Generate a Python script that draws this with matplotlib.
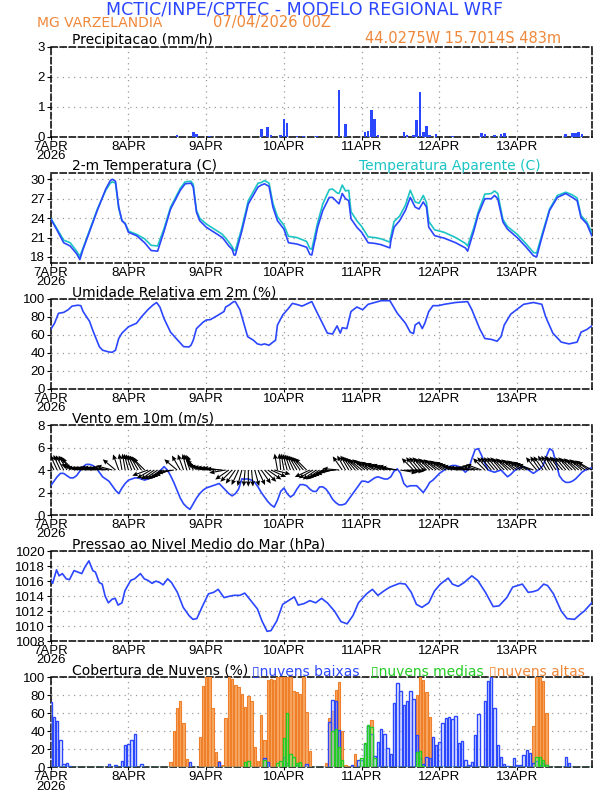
import matplotlib.pyplot as plt
import numpy as np

plt.rcParams['font.family'] = 'DejaVu Sans'

BLUE = '#2b46ff'
CYAN = '#1cc4c4'
ORANGE = '#f0883a'
GREEN = '#22cc22'
TICKFONT = ['Liberation Sans Narrow', 'Liberation Sans', 'DejaVu Sans']

hours = np.arange(168)
day_labels = ['7APR\n2026', '8APR', '9APR', '10APR', '11APR', '12APR', '13APR']

# precipitation (mm/h), only the hours with rain
precip_h = [39, 44, 45, 49, 65, 67, 68, 71, 72, 73, 76, 78, 82, 89, 91, 97, 98, 99, 100, 101,
            109, 110, 112, 113, 114, 115, 116, 117, 119, 124, 133, 134, 137, 139, 140,
            159, 161, 162, 163, 164]
precip_v = [0.05, 0.15, 0.1, 0.02, 0.25, 0.32, 0.05, 0.05, 0.6, 0.45, 0.02, 0.02, 0.02, 1.55, 0.42,
            0.15, 0.2, 0.88, 0.6, 0.05, 0.15, 0.05, 0.05, 0.55, 1.48, 0.15, 0.35, 0.05, 0.1, 0.03,
            0.12, 0.08, 0.05, 0.08, 0.12, 0.08, 0.12, 0.12, 0.15, 0.08]

# temperature and apparent temperature (C)
temp_h = [0, 2, 4, 6, 8, 9, 10, 14.4, 17, 18.4, 19, 20, 21, 22, 23, 24, 26.5, 29, 31, 33, 35, 37,
          40, 41.5, 43.3, 44, 45, 46, 48, 50.5, 53, 55, 56, 56.6, 57, 59, 61, 64, 65, 66, 67.4,
          68.6, 70, 72, 73.4, 76, 79, 80, 80.6, 82.4, 84, 86, 87, 88.4, 89, 90, 91, 92, 92.7,
          94.5, 96, 98, 100, 102, 104.7, 105, 106, 107.7, 109.5, 111, 112.5, 113.7, 115, 116,
          116.7, 118.5, 121.5, 125, 128, 128.7, 130.6, 132, 134, 136, 137, 138, 139.6, 141, 144,
          146.8, 149, 150, 151.6, 154, 156.4, 159, 161, 162.5, 163.7, 165.5, 167]
temp_v = [23.9, 22.1, 20.2, 19.7, 18.5, 17.6, 19.2, 25.2, 28.5, 29.8, 30.0, 29.7, 25.7, 23.6, 23.1,
          21.8, 21.3, 20.2, 19.0, 18.9, 22.0, 25.4, 28.3, 29.3, 29.4, 28.8, 24.9, 23.6, 22.6, 21.8,
          21.0, 19.7, 19.2, 18.3, 18.3, 22.0, 26.2, 28.8, 29.1, 29.3, 28.9, 25.7, 23.6, 22.3, 20.2,
          20.0, 19.5, 18.4, 18.3, 22.6, 25.2, 27.2, 27.2, 26.5, 26.2, 27.8, 27.0, 26.7, 23.9, 22.6,
          21.8, 20.2, 20.1, 19.9, 19.4, 20.5, 22.6, 23.6, 25.2, 27.2, 25.7, 25.4, 26.5, 25.7, 22.6,
          21.3, 20.9, 20.2, 19.4, 18.9, 22.0, 24.6, 27.0, 27.0, 27.5, 27.0, 23.4, 22.3, 21.0, 19.5,
          18.2, 18.0, 21.0, 25.2, 27.2, 27.8, 27.2, 26.7, 24.1, 23.1, 21.3]
tapp_v = [24.0, 22.3, 20.6, 20.2, 18.9, 18.1, 19.4, 25.4, 28.3, 29.4, 29.6, 29.4, 25.5, 23.6, 23.2,
          22.0, 21.5, 20.8, 19.8, 19.7, 22.4, 25.7, 28.6, 29.6, 29.7, 29.2, 25.2, 24.0, 23.1, 22.3,
          21.5, 20.3, 19.6, 19.0, 19.0, 22.5, 26.7, 29.4, 29.5, 29.8, 29.4, 26.3, 24.2, 22.9, 21.2,
          21.0, 20.4, 19.3, 19.2, 23.3, 26.2, 28.4, 28.5, 27.9, 27.8, 29.1, 28.2, 28.3, 25.0, 23.6,
          22.7, 21.1, 21.0, 20.8, 20.3, 21.2, 23.5, 24.3, 26.0, 28.3, 26.5, 26.3, 27.5, 26.4, 23.5,
          22.2, 21.8, 21.0, 20.1, 19.7, 22.5, 25.0, 27.7, 27.8, 28.2, 27.8, 23.8, 22.7, 21.5, 20.0,
          18.7, 18.6, 21.4, 25.4, 27.5, 28.0, 27.6, 27.1, 24.4, 23.4, 21.8]

# relative humidity (%)
rh_h = [0, 1.2, 2.4, 4, 5.4, 6.6, 8.4, 9.3, 10, 12, 13, 15, 16, 18, 19, 20, 21, 22, 24, 26.5, 28,
        30, 31.5, 32.7, 33.7, 35, 37, 40, 41, 42.7, 43.3, 44, 45, 47, 48, 49.3, 51.7, 53.5, 54,
        55, 56.5, 57, 58.4, 59.6, 60.8, 62.6, 63.8, 65, 66, 67.4, 68.6, 69.4, 70, 71.6, 73.4,
        74.6, 75.8, 77.6, 79.4, 80.6, 81.8, 83.6, 85.4, 87, 88.4, 89.4, 90, 91.4, 92.7, 94.5,
        96.3, 98, 100, 102, 104.7, 107, 109.5, 111, 112, 112.5, 113.7, 114.7, 115.5, 116.7, 118,
        119.7, 121.5, 125, 128.7, 130, 132.4, 134, 136, 137.8, 139, 140, 142, 143.8, 146, 149,
        151.6, 152.8, 155, 157.6, 160, 162.5, 163.7, 165.5, 167]
rh_v = [66, 73, 84, 85, 88, 92, 93, 92.5, 86, 75, 65, 47, 43, 41, 40.7, 43, 56, 62, 69, 73, 80, 88,
        93, 96, 91, 78, 63, 51, 47, 46.6, 48.5, 54, 67, 74, 76.5, 77, 82, 86, 91, 93, 97, 97, 88,
        73, 58, 54, 50, 49, 50, 48.5, 52, 54, 71, 82, 89.5, 95, 94, 92, 95, 97, 88, 75, 62, 61,
        70, 62, 68, 67, 86, 91, 88, 94, 96, 98, 98, 84, 73, 63, 61.5, 71, 74, 67, 73, 86, 92.5,
        92.5, 94, 96, 97, 88, 67, 56, 55, 53, 58, 71, 83, 88, 94, 96, 94, 80, 62, 52, 50, 52, 63,
        66, 70]

# wind speed (m/s) and direction the arrow points to (deg, 0 = right, 90 = up)
wind_spd = [2.6, 3.0, 3.4, 3.7, 3.7, 3.5, 3.3, 3.3, 3.5, 3.9, 4.3, 4.5, 4.5, 4.4, 4.2, 3.8, 3.4, 3.2,
            3.0, 2.6, 2.2, 1.9, 2.4, 2.8, 3.1, 3.2, 3.3, 3.3, 3.2, 3.1, 3.2, 3.3, 3.4, 3.7, 4.0, 4.3,
            4.0, 3.5, 2.9, 2.2, 1.5, 1.0, 0.7, 0.5, 1.0, 1.5, 1.9, 2.2, 2.4, 2.5, 2.6, 2.7, 2.8, 2.5,
            2.2, 1.9, 1.7, 1.9, 2.3, 3.2, 3.2, 3.2, 3.1, 2.9, 2.5, 2.0, 1.6, 1.2, 0.9, 0.7, 1.3, 2.1,
            2.4, 1.9, 1.6, 1.8, 2.3, 2.7, 2.7, 2.6, 2.3, 2.1, 2.1, 2.5, 2.5, 2.3, 1.9, 1.4, 1.1, 0.9,
            0.9, 1.0, 1.4, 1.8, 2.2, 2.6, 3.0, 3.0, 2.9, 3.1, 3.3, 3.4, 3.3, 3.2, 3.2, 3.4, 3.9, 4.1,
            3.7, 2.8, 2.5, 2.6, 2.6, 2.6, 2.3, 2.0, 2.4, 2.9, 3.1, 3.4, 3.7, 3.9, 4.1, 4.3, 4.4, 4.4,
            4.3, 4.1, 3.8, 4.1, 5.0, 5.8, 5.9, 5.3, 4.6, 4.0, 3.9, 3.8, 3.9, 4.0, 3.7, 3.4, 3.6, 3.9,
            4.1, 4.2, 4.3, 4.1, 3.9, 3.7, 3.9, 4.1, 4.4, 5.2, 5.9, 5.7, 4.6, 3.5, 3.1, 2.9, 2.9, 3.0,
            3.2, 3.5, 3.8, 4.0, 4.1, 4.2]
wind_to_deg = [120, 118, 115, 115, 118, 120, 125, 135,
               160, 165, 170, 172, 172, 172, 170, 170, 172, 172, 170, 165,
               140, 110, 100, 100, 105, 110, 115, 120, 125, 135,
               200, 210, 215, 215, 215, 210, 205, 200, 190,
               140, 120, 110, 105, 110, 115, 130, 145,
               160, 165, 168, 170, 172, 172, 175, 190,
               215, 225, 235, 245, 255, 265, 270, 275, 285, 295, 305, 315, 325, 335, 345,
               100, 95, 100, 105, 110, 115, 120, 125, 130, 135,
               205, 210, 215, 215, 210, 205, 200, 195, 185, 175,
               125, 120, 120, 125, 130, 135, 140, 140, 145, 150, 150, 155, 155, 160, 160, 165, 165, 170,
               350, 355, 355, 0,
               135, 130, 130, 130, 135, 135, 140, 140, 145, 145, 150, 150, 155, 160, 165,
               170, 170, 172, 172, 170, 165, 160,
               135, 130, 130, 130, 130, 130, 135, 135, 140, 140, 145, 145, 150, 150, 155, 160,
               130, 125, 125, 120, 120, 120, 125, 125, 130, 130, 130, 135, 135, 140, 140, 145, 145, 150]

# mean sea level pressure (hPa)
slp_h = [0, 0.6, 1.8, 2.6, 3.6, 4.8, 5.8, 7.2, 8.4, 9.6, 10.6, 11.8, 13, 13.8, 15, 15.9, 16.8, 17.8,
         19, 19.9, 20.8, 22, 22.9, 24.7, 25.9, 27.7, 28.9, 30, 31.3, 32.5, 33.7, 34.7, 36.1, 37.3,
         39.1, 40.9, 42.7, 43.9, 45.1, 46.9, 48.7, 50.3, 51.7, 53.5, 55.4, 56.6, 58.4, 59.9, 61.4,
         63.8, 65.2, 66.8, 68, 69.8, 71.6, 73.4, 75.2, 76.4, 78.2, 80, 81.8, 83.6, 85.4, 87.6,
         89.6, 91.5, 93.3, 95, 97.5, 99.3, 101, 102.9, 104.7, 107.7, 109.5, 111.3, 112.9, 114.6,
         116.7, 118.5, 120.3, 122.7, 124, 125.8, 127.6, 130, 131.8, 134.2, 136.6, 138.4, 140.8,
         142.6, 145.6, 147.4, 149, 150.4, 152.2, 153.4, 155.2, 157.6, 159.4, 161.7, 163.5, 164.7, 167]
slp_v = [1016.1, 1015.7, 1017.5, 1016.7, 1017.0, 1016.3, 1016.2, 1017.4, 1017.2, 1017.0, 1017.9,
         1018.7, 1017.4, 1017.2, 1015.8, 1015.6, 1014.0, 1013.1, 1013.6, 1013.7, 1012.8, 1013.1,
         1014.7, 1016.1, 1016.3, 1017.0, 1016.3, 1016.1, 1015.7, 1016.0, 1015.8, 1015.5, 1016.3,
         1015.8, 1014.5, 1012.5, 1011.4, 1010.9, 1011.0, 1012.7, 1014.3, 1014.5, 1014.9, 1013.8,
         1014.0, 1014.1, 1014.1, 1014.4, 1013.6, 1012.3, 1010.7, 1009.3, 1009.4, 1010.7, 1012.9,
         1013.4, 1013.9, 1012.8, 1013.0, 1013.4, 1013.1, 1013.7, 1013.1, 1012.0, 1010.6, 1010.3,
         1011.4, 1013.1, 1014.3, 1014.9, 1014.1, 1014.7, 1015.2, 1015.7, 1015.6, 1014.5, 1012.9,
         1012.5, 1013.1, 1014.7, 1015.6, 1016.4, 1015.6, 1015.3, 1015.8, 1016.7, 1016.1, 1014.5,
         1012.6, 1012.7, 1013.8, 1015.2, 1015.6, 1014.5, 1014.6, 1014.8, 1015.6, 1015.4, 1014.3,
         1012.0, 1011.0, 1010.9, 1011.6, 1012.0, 1013.1]

# cloud cover (%), hourly
cloud_low = [73, 56, 52, 30, 4, 5, 1, 0, 0, 0,
             0, 0, 0, 0, 0, 0, 0, 0, 4, 0,
             3, 0, 7, 25, 26, 30, 37, 0, 4, 0,
             0, 0, 0, 0, 0, 0, 0, 0, 0, 0,
             0, 0, 0, 6, 0, 0, 0, 0, 0, 0,
             0, 0, 6, 0, 0, 0, 0, 0, 0, 0,
             0, 0, 0, 0, 0, 0, 10, 6, 0, 0,
             0, 0, 12, 5, 0, 0, 3, 0, 0, 4,
             0, 0, 0, 0, 0, 0, 50, 75, 74, 42,
             0, 0, 0, 3, 0, 8, 8, 26, 46, 37,
             13, 28, 43, 37, 21, 15, 72, 94, 85, 69,
             74, 85, 76, 36, 10, 4, 12, 10, 34, 25,
             28, 49, 55, 56, 54, 57, 27, 29, 8, 3,
             6, 36, 59, 0, 74, 96, 100, 66, 25, 11,
             4, 1, 0, 10, 3, 3, 14, 19, 16, 5,
             7, 3, 5, 3, 0, 0, 0, 0, 0, 11,
             5, 0, 0, 0, 0, 0, 0, 0]
cloud_mid = [0] * 60 + [6, 7, 0, 0, 0, 0, 8, 0, 0, 0,
                        5, 7, 33, 60, 15, 12, 5, 6, 0, 0,
                        0, 0, 0, 0, 0, 0, 0, 40, 43, 23,
                        8, 0, 0, 0, 0, 0, 10, 27, 47, 45,
                        10, 0, 0, 0, 0, 0, 0, 0, 0, 0,
                        0, 0, 0, 17, 18, 2, 0, 0, 0, 0] + [0] * 30 + [11, 12, 8, 3] + [0] * 14
cloud_high = [0] * 37 + [6, 40, 66, 74, 49, 9, 2, 0, 0,
                         34, 90, 100, 100, 66, 17, 7, 3,
                         55, 100, 98, 92, 89, 82, 67, 79, 74, 23, 7,
                         58, 30, 97, 98, 97, 100, 100, 100, 100, 100, 85, 84, 82, 100, 62, 18,
                         0, 0, 0, 0, 5, 55, 63, 86, 95, 40, 3, 2, 1, 15, 0, 0, 0, 0, 53] \
    + [0] * 13 + [80, 100, 97, 84, 56] + [0] * 31 + [46, 100, 100, 96, 60] + [0] * 14

# ---- layout (pixel positions of the GrADS frames) ----
W, H = 612, 792
fig = plt.figure(figsize=(W / 100, H / 100), dpi=100)
tops = [46.7, 172.8, 298.9, 425.0, 551.1, 677.3]
ph = 90
axes = []
for t in tops:
    ax = fig.add_axes([50.7 / W, 1 - (t + ph) / H, 541 / W, ph / H])
    ax.set_xlim(0, 167)
    ax.set_xticks(np.arange(0, 168, 24))
    ax.set_xticklabels(day_labels, fontsize=8.5, linespacing=0.72, family=TICKFONT)
    for lbl in ax.get_yticklabels():
        lbl.set_family(TICKFONT)
    ax.grid(True, linestyle=(0, (1, 3.5)), color='#9a9a9a', linewidth=0.9)
    ax.tick_params(axis='both', direction='out', length=3, width=0.8, pad=1, labelsize=9.5)
    ax.tick_params(axis='x', pad=0.3, length=2.5)
    for s in ax.spines.values():
        s.set_linestyle((0, (4, 2)))
        s.set_linewidth(1.1)
    ax.set_axisbelow(True)
    axes.append(ax)

ax1, ax2, ax3, ax4, ax5, ax6 = axes

def title(ax, txt, x=0.04, color='black'):
    ax.text(x, 1 + 2.5 / ph, txt, transform=ax.transAxes, fontsize=10, va='baseline',
            ha='left', color=color)

# header
fig.text(305 / W, 1 - 9 / H, 'MCTIC/INPE/CPTEC - MODELO REGIONAL WRF', color=BLUE,
         fontsize=12.5, ha='center', va='center')
fig.text(37 / W, 1 - 23 / H, 'MG VARZELANDIA', color=ORANGE, fontsize=10, ha='left', va='center')
fig.text(213 / W, 1 - 23 / H, '07/04/2026 00Z', color=ORANGE, fontsize=10.5, ha='left', va='center')
fig.text(561 / W, 1 - 43 / H, '44.0275W 15.7014S 483m', color=ORANGE, fontsize=10.5,
         ha='right', va='baseline')

# precipitation
ax1.bar(precip_h, precip_v, width=0.8, color=BLUE, zorder=3)
ax1.set_ylim(0, 3)
ax1.set_yticks([0, 1, 2, 3])
title(ax1, 'Precipitacao (mm/h)')

# temperature
ax2.plot(temp_h, tapp_v, color=CYAN, lw=1.2, zorder=3)
ax2.plot(temp_h, temp_v, color=BLUE, lw=1.2, zorder=4)
ax2.set_ylim(17.1, 31)
ax2.set_yticks([18, 21, 24, 27, 30])
title(ax2, '2-m Temperatura (C)')
title(ax2, 'Temperatura Aparente (C)', x=0.57, color=CYAN)

# humidity
ax3.plot(rh_h, rh_v, color=BLUE, lw=1.2, zorder=3)
ax3.set_ylim(0, 100)
ax3.set_yticks(np.arange(0, 101, 20))
title(ax3, 'Umidade Relativa em 2m (%)')

# wind
ang = np.radians(wind_to_deg)
ax4.quiver(hours, np.full(168, 4.0), np.cos(ang), np.sin(ang), angles='uv',
           scale_units='inches', scale=6.0, width=0.002, headwidth=4.5, headlength=5,
           headaxislength=4.5, color='black', zorder=4)
ax4.plot(hours, wind_spd, color=BLUE, lw=1.2, zorder=3)
ax4.set_ylim(0, 8)
ax4.set_yticks(np.arange(0, 9, 2))
title(ax4, 'Vento em 10m (m/s)')

# pressure
ax5.plot(slp_h, slp_v, color=BLUE, lw=1.2, zorder=3)
ax5.set_ylim(1008, 1020)
ax5.set_yticks(np.arange(1008, 1021, 2))
title(ax5, 'Pressao ao Nivel Medio do Mar (hPa)')

# clouds
ax6.bar(hours, cloud_high, width=0.75, color='#f7a865', edgecolor='#f07f2a', lw=0.8, zorder=3)
ax6.bar(hours, cloud_low, width=0.75, color=(0.85, 0.88, 1.0, 0.35), edgecolor=BLUE,
        lw=1.0, zorder=4)
ax6.bar(hours, cloud_mid, width=0.75, color=(0.8, 1.0, 0.8, 0.3), edgecolor=GREEN,
        lw=1.0, zorder=5)
ax6.set_ylim(0, 100)
ax6.set_yticks(np.arange(0, 101, 20))
title(ax6, 'Cobertura de Nuvens (%)')
title(ax6, '\u25AFnuvens baixas', x=(252 - 50.7) / 541, color=BLUE)
title(ax6, '\u25AFnuvens medias', x=(371 - 50.7) / 541, color=GREEN)
title(ax6, '\u25AFnuvens altas', x=(489 - 50.7) / 541, color=ORANGE)

fig.savefig('out.png', dpi=100)
